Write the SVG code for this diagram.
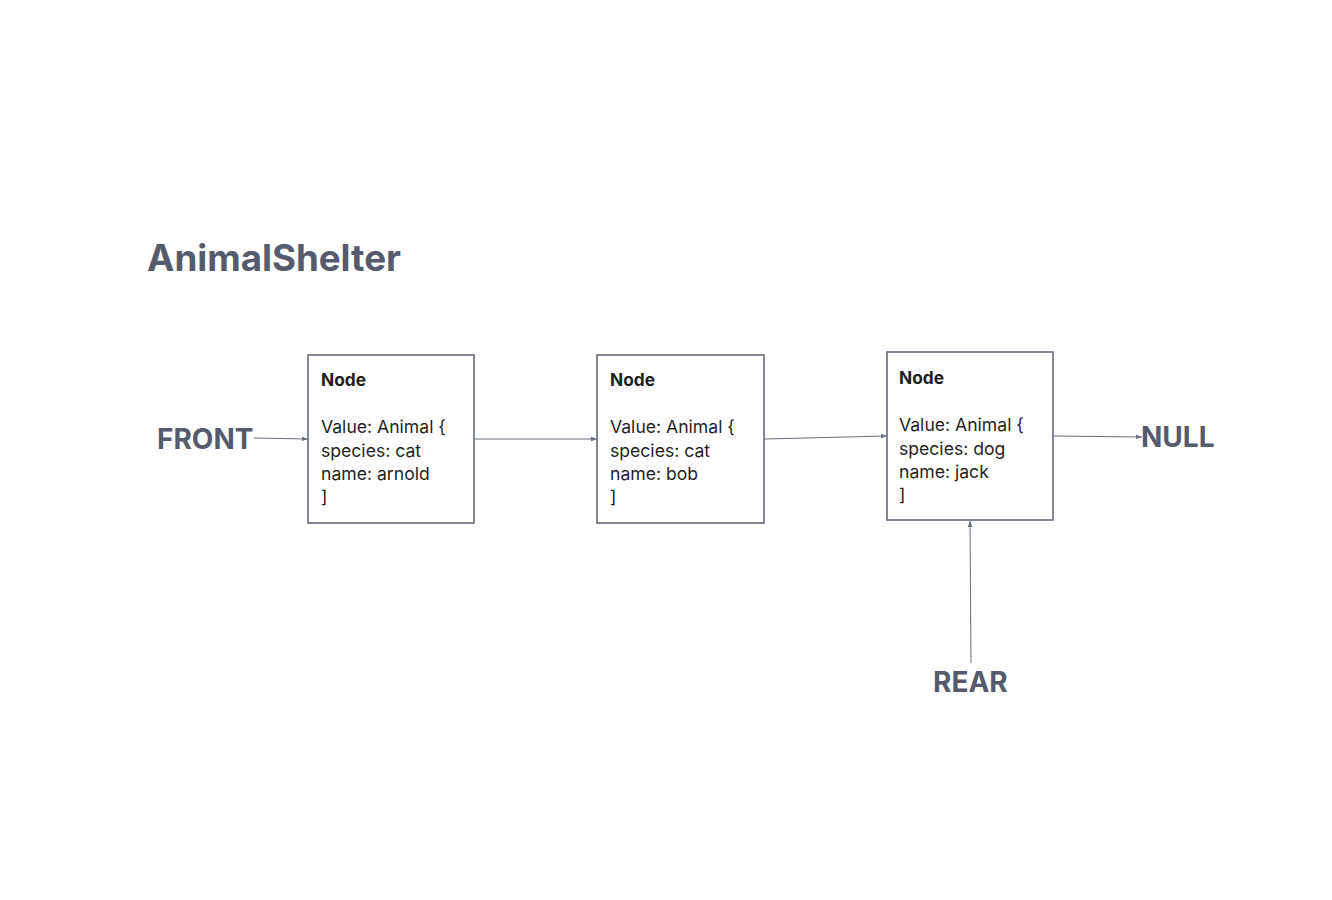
<svg xmlns="http://www.w3.org/2000/svg" width="1332" height="900" viewBox="0 0 1332 900">
<defs>
<style>
.box{fill:#ffffff;stroke:#5b6172;stroke-width:1.5}
.hd{font-family:Inter,"Liberation Sans",sans-serif;font-weight:700;font-size:17.3px;fill:#1f1f1f}
.tx{font-family:Inter,"Liberation Sans",sans-serif;font-size:17.6px;fill:#1f1f1f}
.lbl{font-family:Inter,"Liberation Sans",sans-serif;font-weight:700;font-size:28px;fill:#555b6d}
.ttl{font-family:Inter,"Liberation Sans",sans-serif;font-weight:700;font-size:36.7px;fill:#555b6d}
.cn{stroke:#6a6f7e;stroke-width:1;fill:none;marker-end:url(#ah)}
</style>
<marker id="ah" viewBox="0 0 6 6" refX="6" refY="3" markerWidth="6" markerHeight="6" markerUnits="userSpaceOnUse" orient="auto">
<path d="M0,0.8 L6,3 L0,5.2 Z" fill="#6a6f7e"/>
</marker>
</defs>
<rect width="1332" height="900" fill="#ffffff"/>
<text class="ttl" x="147" y="271">AnimalShelter</text>
<g id="connectors">
<path class="cn" d="M254,438 L308,439"/>
<path class="cn" d="M475,439 L597,439"/>
<path class="cn" d="M765,439 L887,436"/>
<path class="cn" d="M1054,436 L1142,437"/>
<path class="cn" d="M971,663 L970,521"/>
</g>
<g id="front"><text class="lbl" x="157" y="449">FRONT</text></g>
<g id="null"><text class="lbl" x="1141" y="447">NULL</text></g>
<g id="rear"><text class="lbl" x="933" y="692">REAR</text></g>
<g id="node1">
<rect class="box" x="308" y="355" width="166" height="168"/>
<text class="hd" x="321" y="386">Node</text>
<text class="tx" x="321" y="433">Value: Animal {</text>
<text class="tx" x="321" y="457">species: cat</text>
<text class="tx" x="321" y="480">name: arnold</text>
<text class="tx" x="321" y="503">]</text>
</g>
<g id="node2">
<rect class="box" x="597" y="355" width="167" height="168"/>
<text class="hd" x="610" y="386">Node</text>
<text class="tx" x="610" y="433">Value: Animal {</text>
<text class="tx" x="610" y="457">species: cat</text>
<text class="tx" x="610" y="480">name: bob</text>
<text class="tx" x="610" y="503">]</text>
</g>
<g id="node3">
<rect class="box" x="887" y="352" width="166" height="168"/>
<text class="hd" x="899" y="384">Node</text>
<text class="tx" x="899" y="431">Value: Animal {</text>
<text class="tx" x="899" y="455">species: dog</text>
<text class="tx" x="899" y="478">name: jack</text>
<text class="tx" x="899" y="501">]</text>
</g>
</svg>
